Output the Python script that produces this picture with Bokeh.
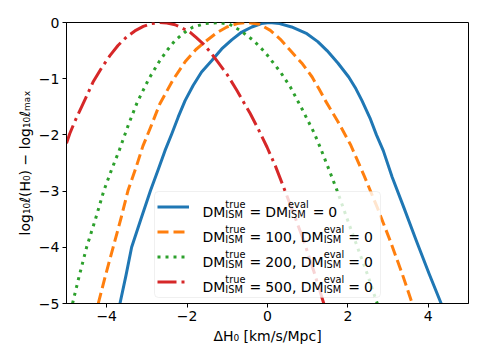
from bokeh.plotting import figure
from bokeh.models import Range1d, FixedTicker, Legend, LegendItem, Label, BoxAnnotation
from bokeh.embed import file_html
from bokeh.resources import INLINE

# ---- data ----
blue_x = [-3.67, -3.52, -3.38, -3.15, -2.91, -2.72, -2.55, -2.38, -2.22, -2.05, -1.85, -1.64, -1.39, -1.14,
          -0.89, -0.64, -0.39, -0.15, 0.05, 0.3, 0.6, 0.98, 1.25, 1.48, 1.75, 2.02, 2.2, 2.35, 2.55, 2.71,
          2.88, 3.1, 3.39, 3.7, 4.02, 4.32]
blue_y = [-5.0, -4.5, -4.0, -3.5, -2.99, -2.62, -2.28, -1.98, -1.68, -1.39, -1.12, -0.88, -0.68, -0.47,
          -0.31, -0.17, -0.08, -0.02, 0.0, -0.02, -0.08, -0.2, -0.34, -0.5, -0.72, -0.97, -1.18, -1.39, -1.7, -2.0,
          -2.28, -2.75, -3.29, -3.88, -4.47, -5.0]

orange_x = [-4.21, -4.03, -3.84, -3.65, -3.47, -3.28, -3.1, -2.9, -2.68, -2.35, -2.05, -1.78, -1.51, -1.26,
            -1.01, -0.75, -0.5, -0.2, 0.07, 0.32, 0.57, 0.85, 1.11, 1.28, 1.44, 1.75, 2.07, 2.4, 2.73, 3.05,
            3.35, 3.6]
orange_y = [-5.0, -4.5, -4.0, -3.5, -2.99, -2.6, -2.2, -1.85, -1.45, -1.02, -0.7, -0.48, -0.32, -0.18,
            -0.08, -0.02, 0.0, -0.03, -0.14, -0.3, -0.5, -0.72, -0.97, -1.18, -1.39, -1.76, -2.18, -2.72, -3.29, -3.88,
            -4.47, -5.0]

green_x = [-4.85, -4.68, -4.50, -4.28, -4.07, -3.88, -3.69, -3.46, -3.24, -2.95, -2.68, -2.48, -2.30, -2.07,
           -1.85, -1.55, -1.2, -0.95, -0.68, -0.35, -0.06, 0.07, 0.32, 0.57, 0.86, 1.15, 1.31, 1.52, 1.73,
           1.9, 2.06, 2.28, 2.48, 2.73]
green_y = [-5.0, -4.5, -4.0, -3.5, -2.99, -2.62, -2.28, -1.82, -1.42, -1.0, -0.68, -0.48, -0.32, -0.18,
           -0.08, -0.02, 0.0, -0.03, -0.14, -0.32, -0.53, -0.65, -0.88, -1.15, -1.54, -1.95, -2.22, -2.6, -2.99,
           -3.33, -3.65, -4.08, -4.47, -5.0]

red_x = [-5.0, -4.92, -4.78, -4.63, -4.48, -4.34, -4.13, -3.92, -3.72, -3.51, -3.30, -3.09, -2.88, -2.68,
         -2.5, -2.30, -2.12, -1.93, -1.77, -1.60, -1.43, -1.26, -1.0, -0.76, -0.60, -0.43, -0.22, -0.01,
         0.2, 0.40, 0.65, 0.90, 1.15, 1.40]
red_y = [-2.15, -1.98, -1.74, -1.51, -1.28, -1.06, -0.81, -0.59, -0.41, -0.26, -0.15, -0.07, -0.02, 0.0,
         -0.01, -0.04, -0.1, -0.17, -0.27, -0.38, -0.52, -0.68, -0.93, -1.21, -1.41, -1.62, -1.91, -2.22,
         -2.56, -2.93, -3.4, -3.88, -4.42, -5.0]

dm_true = [None, "100", "200", "500"]  # None -> DM_true = DM_eval = 0
x_ticks = [-4, -2, 0, 2, 4]
y_ticks = [0, -1, -2, -3, -4, -5]

colors = ["#1f77b4", "#ff7f0e", "#2ca02c", "#d62728"]
dashes = ["solid", "11 5", "3 5", "19 5 3 5"]

FONT = "DejaVu Sans"

p = figure(width=476, height=355, x_range=Range1d(-5, 5), y_range=Range1d(-5, 0),
           output_backend="svg", toolbar_location=None,
           min_border_left=66, min_border_right=8, min_border_top=22, min_border_bottom=52)
p.grid.visible = False
p.outline_line_color = "black"
p.outline_line_width = 1
p.background_fill_color = "white"
p.border_fill_color = "white"

for ax, ticks in ((p.xaxis, x_ticks), (p.yaxis, y_ticks)):
    ax.ticker = FixedTicker(ticks=ticks)
    ax.major_label_overrides = {t: (str(t).replace("-", "\u2212")) for t in ticks}
    ax.minor_tick_line_color = None
    ax.major_tick_in = 0
    ax.major_tick_out = 4
    ax.major_tick_line_color = "black"
    ax.axis_line_color = "black"
    ax.major_label_text_font = FONT
    ax.major_label_text_font_size = "14px"
    ax.major_label_text_color = "black"
    ax.axis_label_text_font = FONT
    ax.axis_label_text_font_size = "14px"
    ax.axis_label_text_font_style = "normal"
    ax.axis_label_text_color = "black"
    ax.major_label_standoff = 3

p.xaxis.axis_label = "\u0394H\u2080 [km/s/Mpc]"
p.yaxis.axis_label = "log\u2081\u2080\u2113(H\u2080) \u2212 log\u2081\u2080\u2113\u2098\u2090\u2093"
p.xaxis.axis_label_standoff = 4
p.yaxis.axis_label_standoff = 3

series = [(blue_x, blue_y), (orange_x, orange_y), (green_x, green_y), (red_x, red_y)]
renderers = []
for (xs, ys), c, d in zip(series, colors, dashes):
    r = p.line(xs, ys, line_color=c, line_width=3, line_dash=d, line_join="round")
    renderers.append(r)

# legend frame (drawn under the legend samples and texts)
LEG_L, LEG_B, LEG_W, LEG_H = 88, 6, 226, 106
p.add_layout(BoxAnnotation(left=LEG_L, right=LEG_L + LEG_W, bottom=LEG_B, top=LEG_B + LEG_H,
                           left_units="screen", right_units="screen",
                           bottom_units="screen", top_units="screen",
                           fill_color="white", fill_alpha=0.8,
                           line_color="#cccccc", line_width=1, border_radius=4,
                           level="annotation"))

legend = Legend(items=[LegendItem(label=" ", renderers=[r]) for r in renderers],
                location=(LEG_L, LEG_B), margin=0, padding=3, spacing=0,
                glyph_width=32, glyph_height=25, label_height=25,
                label_width=176, label_standoff=12,
                label_text_font_size="13px",
                border_line_alpha=0, background_fill_alpha=0)
p.add_layout(legend)

# ---- legend texts with stacked super/subscripts ----
W = {"D": .770, "M": .863, "=": .838, "0": .636, "1": .636, "2": .636, "5": .636,
     ",": .318, " ": .318, "t": .392, "r": .411, "u": .634, "e": .615, "v": .592,
     "a": .613, "l": .278, "I": .295, "S": .635}
F = 14.0
FS = 0.7 * F
SP = 4.0
FRAME_L, FRAME_B = 66, 303


def wid(s, size):
    return sum(W[c] for c in s) * size


def put(text, xp, yp, size):
    p.add_layout(Label(x=xp - FRAME_L, y=FRAME_B - yp, x_units="screen", y_units="screen",
                       text=text, text_font=FONT, text_font_size=f"{size:.1f}px", level="overlay",
                       text_color="black", text_baseline="alphabetic", text_align="left"))


for i, val in enumerate(dm_true):
    yc = 206.0 + 25 * i
    base = yc + 5
    x = 202.0

    def dm(sup, x):
        put("DM", x, base, F)
        x += wid("DM", F)
        put(sup, x, base - 7.5, FS)
        put("ISM", x, base + 2.5, FS)
        return x + max(wid(sup, FS), wid("ISM", FS))

    def eq(x):
        x += SP
        put("=", x, base, F)
        return x + wid("=", F) + SP

    x = dm("true", x)
    x = eq(x)
    if val is not None:
        put(val + ",", x, base, F)
        x += wid(val + ", ", F)
    x = dm("eval", x)
    x = eq(x)
    put("0", x, base, F)

open("out.html", "w").write(file_html(p, INLINE))
